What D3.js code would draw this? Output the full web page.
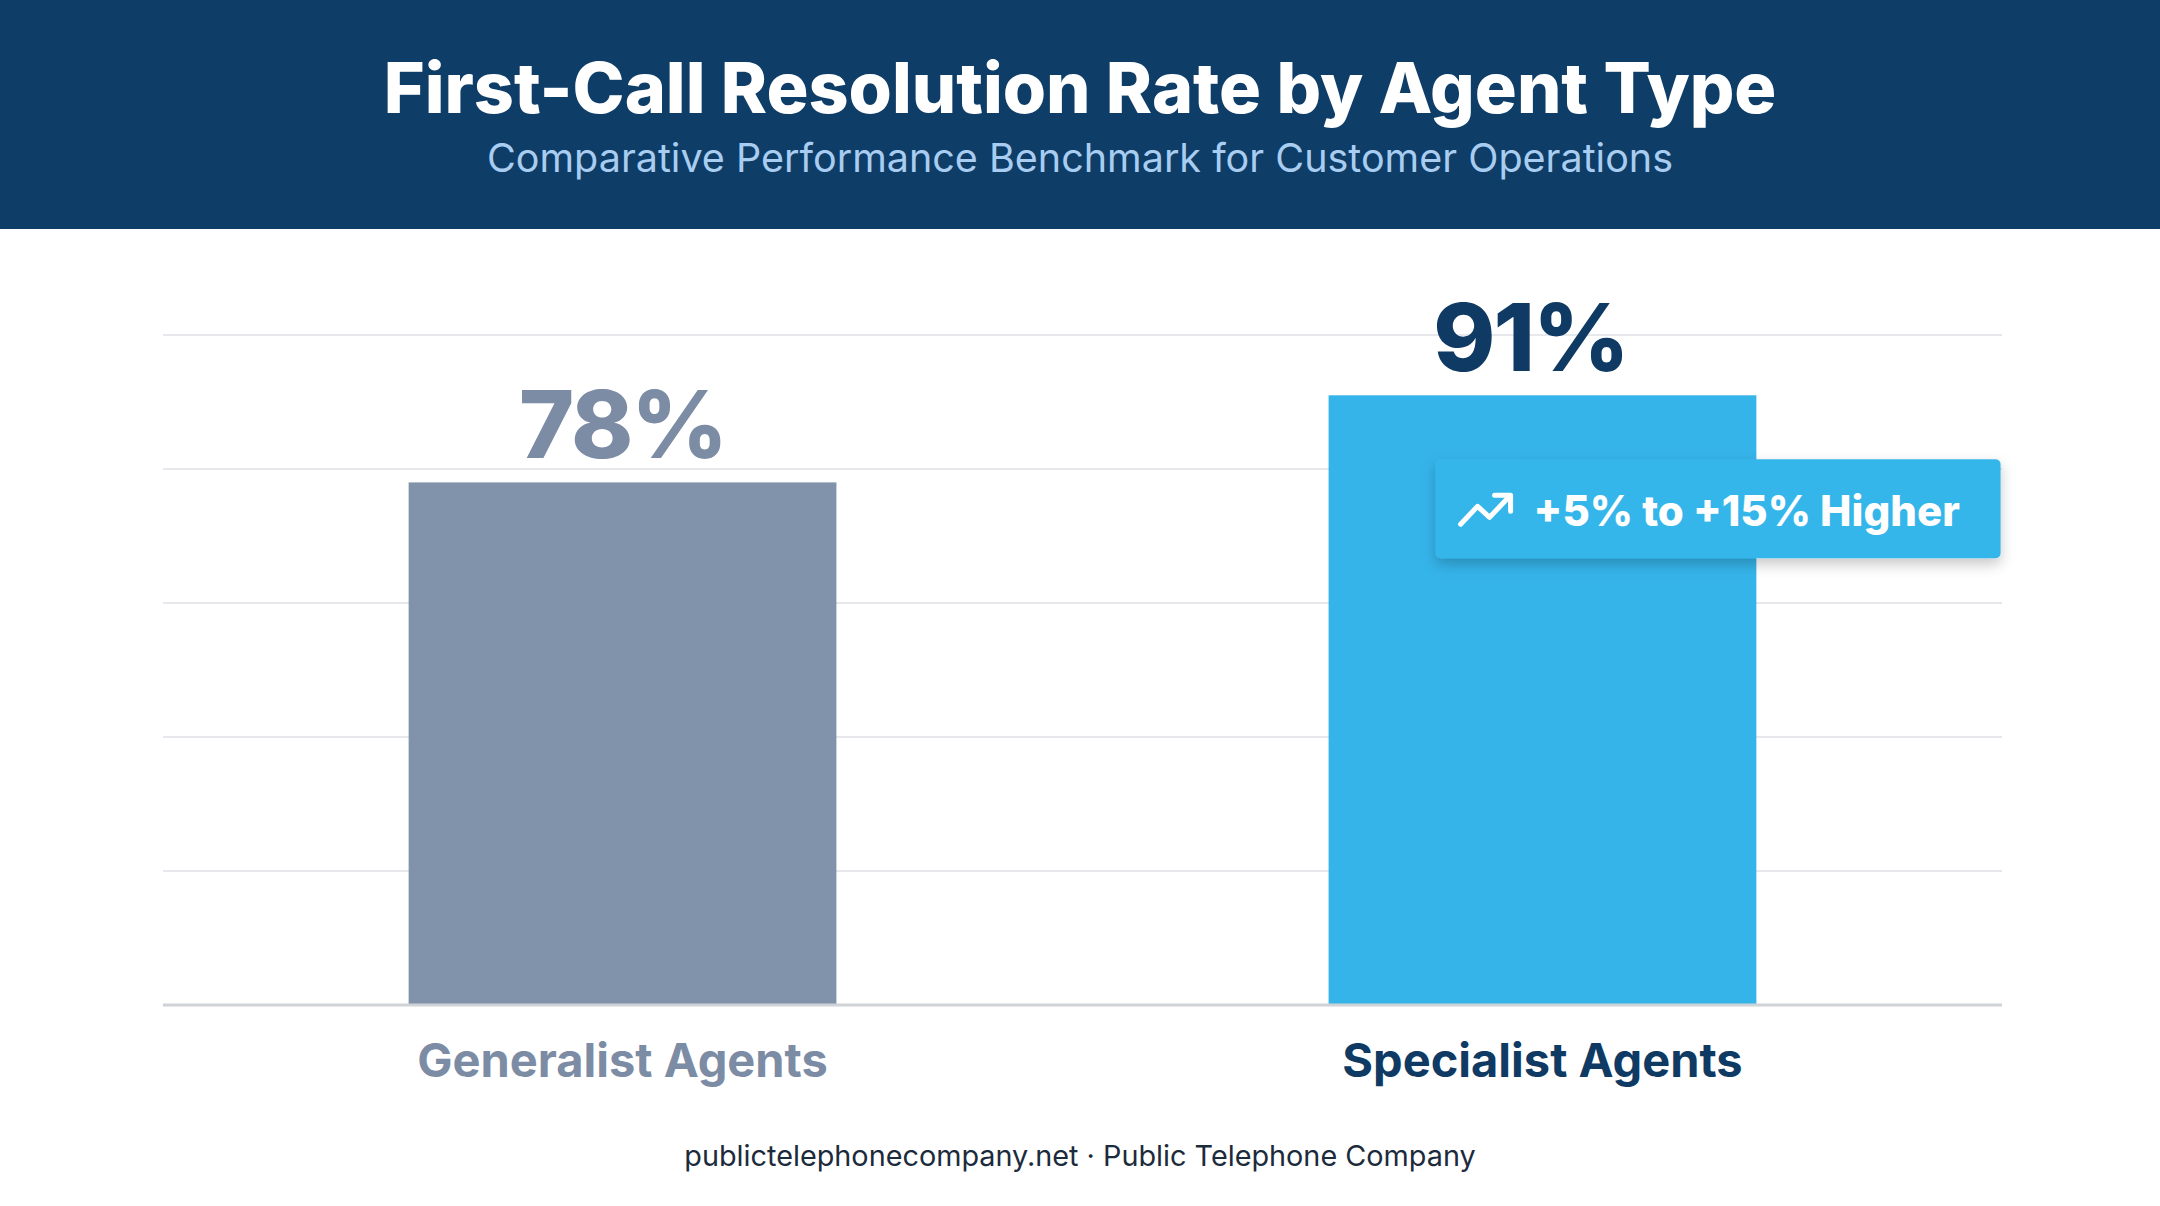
<!DOCTYPE html>
<html>
<head>
<meta charset="utf-8">
<script src="https://cdn.jsdelivr.net/npm/d3@7"></script>
<style>
  html, body { margin: 0; padding: 0; background: #ffffff; }
  svg { display: block; font-family: Inter, "Noto Sans", sans-serif; }
</style>
</head>
<body>
<div id="chart"></div>
<script>
// chart data
var categories = ["Generalist Agents", "Specialist Agents"];
var values = [78, 91];
var valueLabels = ["78%", "91%"];
var gridTicks = [0, 20, 40, 60, 80, 100];
var badgeText = "+5% to +15% Higher";

var titleText = "First-Call Resolution Rate by Agent Type";
var subtitleText = "Comparative Performance Benchmark for Customer Operations";
var footerText = "publictelephonecompany.net \u00b7 Public Telephone Company";

// set the dimensions
var W = 2160, H = 1206;
var margin = {top: 335, right: 158, bottom: 201, left: 163},
    width = W - margin.left - margin.right,
    height = H - margin.top - margin.bottom;

var barColors = ["#8193ab", "#35b4ea"];
var labelColors = ["#7c8ca5", "#0f3a63"];

var svg = d3.select("#chart")
  .append("svg")
    .attr("width", W)
    .attr("height", H);

var defs = svg.append("defs");
var shadow = defs.append("filter")
    .attr("id", "shadow")
    .attr("x", "-10%").attr("y", "-30%")
    .attr("width", "130%").attr("height", "180%");
shadow.append("feDropShadow")
    .attr("dx", 0).attr("dy", 6)
    .attr("stdDeviation", 7)
    .attr("flood-color", "#000")
    .attr("flood-opacity", 0.22);

// header band
svg.append("rect")
    .attr("x", 0).attr("y", 0)
    .attr("width", W).attr("height", 229)
    .attr("fill", "#0e3d68");

svg.append("text")
    .attr("x", W / 2).attr("y", 113)
    .attr("text-anchor", "middle")
    .attr("font-size", 70)
    .attr("font-weight", 800)
    .attr("fill", "#ffffff")
    .text(titleText);

svg.append("text")
    .attr("x", W / 2).attr("y", 172)
    .attr("text-anchor", "middle")
    .attr("font-size", 39.5)
    .attr("font-weight", 400)
    .attr("fill", "#a9cdf0")
    .text(subtitleText);

var g = svg.append("g")
    .attr("transform", "translate(" + margin.left + "," + margin.top + ")");

// scales
var x = d3.scaleBand()
    .domain(categories)
    .range([0, width])
    .paddingInner(0.535)
    .paddingOuter(0.267);

var y = d3.scaleLinear()
    .domain([0, 100])
    .range([height, 0]);

// gridlines
g.append("g")
  .selectAll("line")
  .data(gridTicks.slice(1))
  .enter()
  .append("line")
    .attr("x1", 0).attr("x2", width)
    .attr("y1", function(d) { return y(d); })
    .attr("y2", function(d) { return y(d); })
    .attr("stroke", "#e6e8eb")
    .attr("stroke-width", 2);

// bars
g.append("g")
  .selectAll("rect")
  .data(values)
  .enter()
  .append("rect")
    .attr("x", function(d, i) { return x(categories[i]); })
    .attr("y", function(d) { return y(d); })
    .attr("width", x.bandwidth())
    .attr("height", function(d) { return height - y(d); })
    .attr("fill", function(d, i) { return barColors[i]; });

// baseline
g.append("line")
    .attr("x1", 0).attr("x2", width)
    .attr("y1", height).attr("y2", height)
    .attr("stroke", "#cfd2d6")
    .attr("stroke-width", 3);

// value labels
g.append("g")
  .selectAll("text")
  .data(values)
  .enter()
  .append("text")
    .attr("x", function(d, i) { return x(categories[i]) + x.bandwidth() / 2 - (i === 1 ? 12 : 0); })
    .attr("y", function(d) { return y(d) - 24; })
    .attr("text-anchor", "middle")
    .attr("font-size", 94)
    .attr("font-weight", 800)
    .attr("letter-spacing", -2)
    .attr("fill", function(d, i) { return labelColors[i]; })
    .text(function(d, i) { return valueLabels[i]; });

// category labels
g.append("g")
  .selectAll("text")
  .data(categories)
  .enter()
  .append("text")
    .attr("x", function(d) { return x(d) + x.bandwidth() / 2; })
    .attr("y", height + 72)
    .attr("text-anchor", "middle")
    .attr("font-size", 47)
    .attr("font-weight", 700)
    .attr("fill", function(d, i) { return labelColors[i]; })
    .text(function(d) { return d; });

// badge on the specialist bar
var bx = x(categories[1]) + 107, by = y(values[1]) + 64;
var badge = g.append("g")
    .attr("transform", "translate(" + bx + "," + by + ")");

badge.append("rect")
    .attr("width", 565).attr("height", 99)
    .attr("rx", 5)
    .attr("fill", "#35b6eb")
    .attr("filter", "url(#shadow)");

// trending-up icon
badge.append("path")
    .attr("d", "M25,65 L42,47 L54,58 L73,38")
    .attr("fill", "none")
    .attr("stroke", "#ffffff")
    .attr("stroke-width", 5)
    .attr("stroke-linecap", "round")
    .attr("stroke-linejoin", "round");
badge.append("path")
    .attr("d", "M59,36 L75,36 L75,52")
    .attr("fill", "none")
    .attr("stroke", "#ffffff")
    .attr("stroke-width", 5)
    .attr("stroke-linecap", "round")
    .attr("stroke-linejoin", "round");

badge.append("text")
    .attr("x", 98).attr("y", 67)
    .attr("font-size", 42)
    .attr("font-weight", 800)
    .attr("fill", "#ffffff")
    .text(badgeText);

// footer
svg.append("text")
    .attr("x", W / 2).attr("y", 1166)
    .attr("text-anchor", "middle")
    .attr("font-size", 28.8)
    .attr("font-weight", 400)
    .attr("fill", "#1c2b3c")
    .text(footerText);
</script>
</body>
</html>
